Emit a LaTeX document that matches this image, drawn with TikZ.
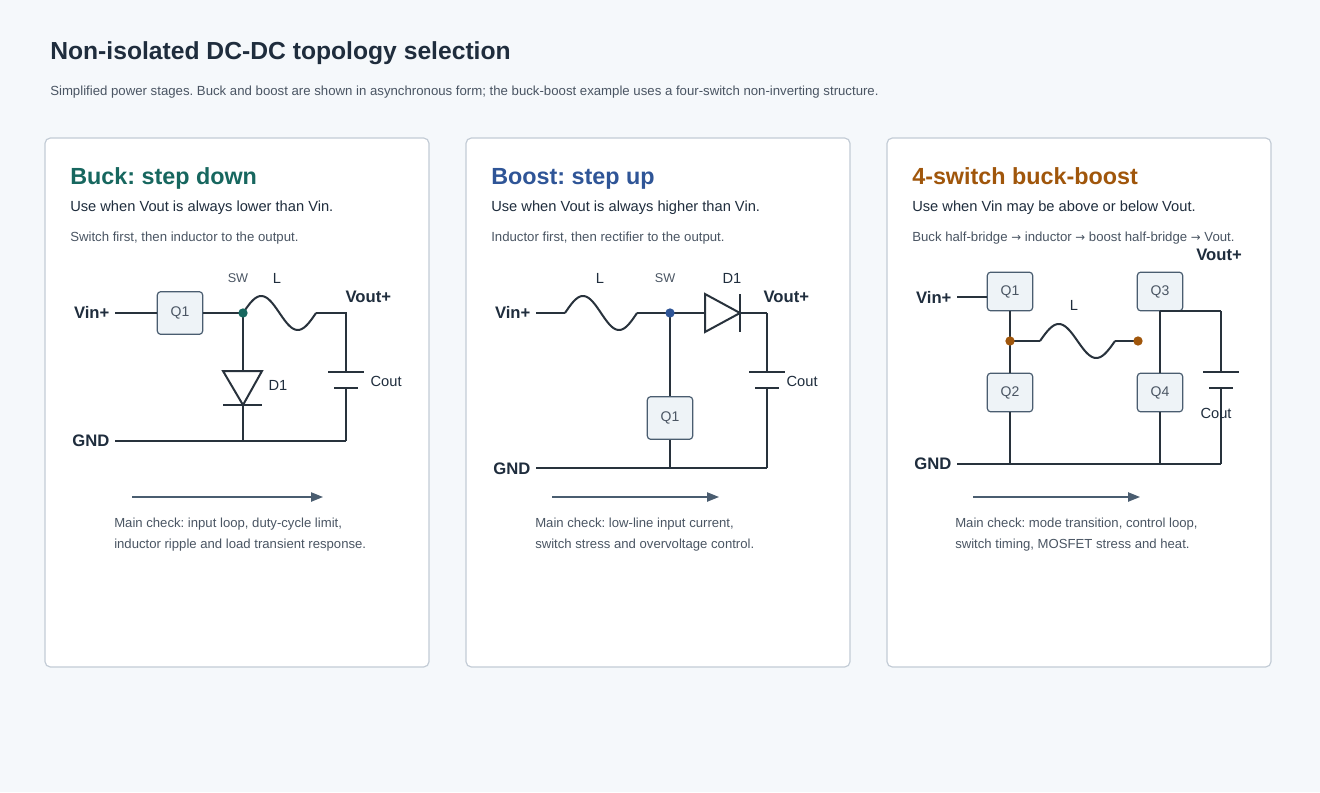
\documentclass[tikz,border=0pt]{standalone}
\usepackage{fontspec}
\setmainfont{Liberation Sans}
\usetikzlibrary{positioning, arrows.meta, calc}
\definecolor{pagebg}{HTML}{F5F8FB}
\definecolor{panelline}{HTML}{C3CCD6}
\definecolor{ink}{HTML}{1F2D3D}
\definecolor{muted}{HTML}{4A5563}
\definecolor{wire}{HTML}{28323C}
\definecolor{swfill}{HTML}{EEF3F7}
\definecolor{swline}{HTML}{4A5D70}
\definecolor{buckc}{HTML}{17675F}
\definecolor{boostc}{HTML}{2F5597}
\definecolor{bbc}{HTML}{A0560B}
\frenchspacing
\tikzset{
    x=0.75pt, y=-0.75pt,
    panel/.style={draw=panelline, fill=white, rounded corners=4pt, line width=0.9pt},
    wire/.style={draw=wire, line width=1.5pt},
    switch/.style={draw=swline, fill=swfill, rounded corners=2.5pt, line width=0.9pt,
        minimum width=34pt, minimum height=32pt, inner sep=0pt, text=muted, font=\fontsize{10.5}{12}\selectfont},
    pin/.style={font=\bfseries\fontsize{12.5}{14}\selectfont, text=ink, inner sep=1pt},
    part/.style={font=\fontsize{11}{13}\selectfont, text=ink, inner sep=1pt},
    tag/.style={font=\fontsize{9.5}{11}\selectfont, text=muted, inner sep=1pt},
    head/.style={font=\bfseries\fontsize{17.5}{20}\selectfont, anchor=base west, inner sep=0pt},
    sub/.style={font=\fontsize{11}{13}\selectfont, text=ink, anchor=west, inner sep=0pt},
    note/.style={font=\fontsize{9.9}{11}\selectfont, text=muted, anchor=west, inner sep=0pt},
    check/.style={font=\fontsize{9.85}{15.5}\selectfont, text=muted, align=left, anchor=north west, inner sep=0pt},
    flow/.style={draw=swline, line width=1pt, -{Triangle[length=9pt,width=7pt]}},
    dot/.style={circle, fill=#1, inner sep=0pt, minimum size=7pt}
}
% sine coil between two x positions
\newcommand{\coil}[3]{\draw[wire] plot[domain=0:360, samples=50, smooth] ({#1+\x/360*(#2-#1)}, {#3-17*sin(\x)});}
% capacitor plates on a vertical wire
\newcommand{\capv}[4]{%
    \draw[wire] (#1-18,#2) -- (#1+18,#2);
    \draw[wire] (#1-12,#2+16) -- (#1+12,#2+16);
    \draw[wire] (#1,#3) -- (#1,#2) (#1,#2+16) -- (#1,#4);}
\newcommand{\arr}{{\fontspec{DejaVu Sans}\fontsize{8.8}{10}\selectfont →}}
\begin{document}
\begin{tikzpicture}
\fill[pagebg] (0,0) rectangle (1320,792);
\useasboundingbox (0,0) rectangle (1320,792);

\node[anchor=west, inner sep=0pt, text=ink, font=\bfseries\fontsize{18.5}{22}\selectfont] (title) at (50,53) {Non-isolated DC-DC topology selection};
\node[anchor=west, inner sep=0pt, text=muted, font=\fontsize{9.9}{11}\selectfont] (subtitle) at (50,92) {Simplified power stages. Buck and boost are shown in asynchronous form; the buck-boost example uses a four-switch non-inverting structure.};

\foreach \px in {45,466,887}
    \draw[panel] (\px,138) rectangle (\px+384,667);

% buck
\node[head, text=buckc] (bhead) at (70,184) {Buck: step down};
\node[sub] (bsub) at (70,208) {Use when Vout is always lower than Vin.};
\node[note] (bnote) at (70,238) {Switch first, then inductor to the output.};
\node[pin, anchor=east] (bvin) at (111,312) {Vin+};
\node[pin, anchor=east] (bgnd) at (111,441) {GND};
\node[switch] (bq1) at (180,313) {Q1};
\coordinate (bsw) at (243,313);
\coordinate (bout) at (346,313);
\coordinate (bin) at (115,313);
\draw[wire] (bin) -- (bq1.west);
\draw[wire] (bq1.east) -- (bsw);
\coil{243}{316}{313}
\draw[wire] (316,313) -- (bout) -- (346,372);
\capv{346}{372}{372}{441}
\draw[wire] (bsw) -- (243,371);
\draw[wire, line join=miter] (223,371) -- (262,371) -- (243,405) -- cycle;
\draw[wire] (223,405) -- (262,405) (243,405) -- (243,441);
\draw[wire] (115,441) -- (346,441);
\node[dot=buckc] at (bsw) {};
\node[tag] at (238,278) {SW};
\node[part] at (277,278) {L};
\node[part, anchor=west] at (267,385) {D1};
\node[part, anchor=west] at (369,381) {Cout};
\node[pin, anchor=west] at (344,297) {Vout+};
\coordinate (ba) at (132,497);
\coordinate (bb) at (323,497);
\draw[flow] (ba) -- (bb);
\node[check] at (114,518) {Main check: input loop, duty-cycle limit,\\inductor ripple and load transient response.};

% boost
\node[head, text=boostc] (ohead) at (491,184) {Boost: step up};
\node[sub] (osub) at (491,208) {Use when Vout is always higher than Vin.};
\node[note] (onote) at (491,238) {Inductor first, then rectifier to the output.};
\node[pin, anchor=east] (ovin) at (532,312) {Vin+};
\node[pin, anchor=east] (ognd) at (532,469) {GND};
\node[switch] (oq1) at (670,418) {Q1};
\coordinate (osw) at (670,313);
\draw[wire] (536,313) -- (565,313);
\coil{565}{637}{313}
\draw[wire] (637,313) -- (osw) -- (705,313);
\draw[wire] (osw) -- (oq1.north) (oq1.south) -- (670,468);
\draw[wire, line join=miter] (705,294) -- (705,332) -- (740,313) -- cycle;
\draw[wire] (740,294) -- (740,332) (740,313) -- (767,313);
\capv{767}{372}{313}{468}
\draw[wire] (536,468) -- (767,468);
\node[dot=boostc] at (osw) {};
\node[part] at (600,278) {L};
\node[tag] at (665,278) {SW};
\node[part] at (732,278) {D1};
\node[pin, anchor=west] at (762,297) {Vout+};
\node[part, anchor=west] at (785,381) {Cout};
\coordinate (oa) at (552,497);
\coordinate (ob) at (719,497);
\draw[flow] (oa) -- (ob);
\node[check] at (535,518) {Main check: low-line input current,\\switch stress and overvoltage control.};

% four-switch buck-boost
\node[head, text=bbc] (xhead) at (912,184) {4-switch buck-boost};
\node[sub] (xsub) at (912,208) {Use when Vin may be above or below Vout.};
\node[note] (xnote) at (912,238) {Buck half-bridge \arr{} inductor \arr{} boost half-bridge \arr{} Vout.};
\node[pin, anchor=east] (xvin) at (953,297) {Vin+};
\node[pin, anchor=east] (xgnd) at (953,464) {GND};
\node[switch, minimum height=29pt] (xq1) at (1010,291.5) {Q1};
\node[switch, minimum height=29pt] (xq2) at (1010,392.5) {Q2};
\node[switch, minimum height=29pt] (xq3) at (1160,291.5) {Q3};
\node[switch, minimum height=29pt] (xq4) at (1160,392.5) {Q4};
\coordinate (xa) at (1010,341);
\coordinate (xb) at (1138,341);
\coordinate (xo) at (1160,311);
\coordinate (xin) at (957,297);
\draw[wire] (xin) -- (xq1.west |- xin);
\draw[wire] (xq1.south) -- (xa) -- (xq2.north);
\draw[wire] (xq2.south) -- (1010,464);
\draw[wire] (xa) -- (1040,341);
\coil{1040}{1115}{341}
\draw[wire] (1115,341) -- (xb);
\draw[wire] (xo) -- (xq4.north) (xq4.south) -- (1160,464);
\draw[wire] (xo) -- (1221,311);
\capv{1221}{372}{311}{464}
\draw[wire] (957,464) -- (1221,464);
\node[dot=bbc] at (xa) {};
\node[dot=bbc] at (xb) {};
\node[part] at (1074,305) {L};
\node[pin] at (1219,255) {Vout+};
\node[part] at (1216,413) {Cout};
\coordinate (xc) at (973,497);
\coordinate (xd) at (1140,497);
\draw[flow] (xc) -- (xd);
\node[check] at (955,518) {Main check: mode transition, control loop,\\switch timing, MOSFET stress and heat.};
\end{tikzpicture}
\end{document}
